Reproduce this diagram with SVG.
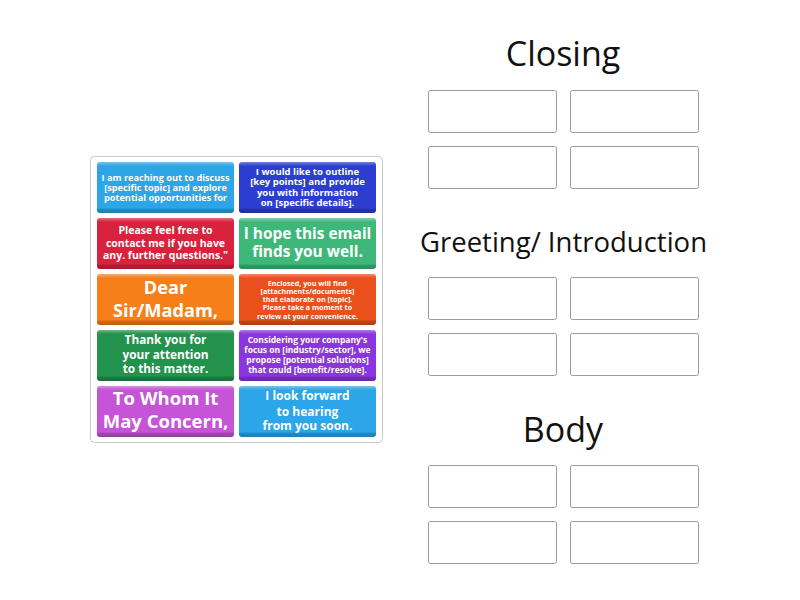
<svg xmlns="http://www.w3.org/2000/svg" width="800" height="600" viewBox="0 0 800 600">
<defs>
<linearGradient id="bevel" x1="0" y1="0" x2="0" y2="1">
<stop offset="0" stop-color="#fff" stop-opacity="0.35"/>
<stop offset="0.05" stop-color="#fff" stop-opacity="0.12"/>
<stop offset="0.08" stop-color="#fff" stop-opacity="0"/>
<stop offset="0.9" stop-color="#000" stop-opacity="0"/>
<stop offset="0.93" stop-color="#000" stop-opacity="0.18"/>
<stop offset="1" stop-color="#000" stop-opacity="0.25"/>
</linearGradient>
</defs>
<style>
.head{font-family:"Open Sans","Liberation Sans",sans-serif;fill:#111;text-anchor:middle}
.tt{font-family:"Open Sans","Liberation Sans",sans-serif;font-weight:bold;fill:#fff;text-anchor:middle}
.slot{fill:#fff;stroke:#9a9a9a;stroke-width:1}
.bev{fill:url(#bevel)}
</style>
<rect width="800" height="600" fill="#fff"/>
<g id="panel"><rect x="90.5" y="156.5" width="292" height="286" rx="4" fill="#fff" stroke="#c9c9c9"/></g>

<g id="tile1"><rect x="97" y="162" width="137" height="51" rx="3" fill="#2ca6e8"/><rect class="bev" x="97" y="162" width="137" height="51" rx="3"/>
<text class="tt" font-size="9.2"><tspan x="165.5" y="181">I am reaching out to discuss</tspan><tspan x="165.5" y="191">[specific topic] and explore</tspan><tspan x="165.5" y="201">potential opportunities for</tspan></text></g>

<g id="tile2"><rect x="239" y="162" width="137" height="51" rx="3" fill="#2b3ed0"/><rect class="bev" x="239" y="162" width="137" height="51" rx="3"/>
<text class="tt" font-size="9.5"><tspan x="307.5" y="174.5">I would like to outline</tspan><tspan x="307.5" y="185">[key points] and provide</tspan><tspan x="307.5" y="195.5">you with information</tspan><tspan x="307.5" y="206">on [specific details].</tspan></text></g>

<g id="tile3"><rect x="97" y="218" width="137" height="51" rx="3" fill="#d9223d"/><rect class="bev" x="97" y="218" width="137" height="51" rx="3"/>
<text class="tt" font-size="10.5"><tspan x="165.5" y="234">Please feel free to</tspan><tspan x="165.5" y="246.5">contact me if you have</tspan><tspan x="165.5" y="259">any. further questions."</tspan></text></g>

<g id="tile4"><rect x="239" y="218" width="137" height="51" rx="3" fill="#3db879"/><rect class="bev" x="239" y="218" width="137" height="51" rx="3"/>
<text class="tt" font-size="15.4"><tspan x="307.5" y="238.5">I hope this email</tspan><tspan x="307.5" y="257">finds you well.</tspan></text></g>

<g id="tile5"><rect x="97" y="274" width="137" height="51" rx="3" fill="#f67f1a"/><rect class="bev" x="97" y="274" width="137" height="51" rx="3"/>
<text class="tt" font-size="18.2"><tspan x="165.5" y="294">Dear</tspan><tspan x="165.5" y="316.5">Sir/Madam,</tspan></text></g>

<g id="tile6"><rect x="239" y="274" width="137" height="51" rx="3" fill="#e9501c"/><rect class="bev" x="239" y="274" width="137" height="51" rx="3"/>
<text class="tt" font-size="7.2"><tspan x="307.5" y="285.5">Enclosed, you will find</tspan><tspan x="307.5" y="294">[attachments/documents]</tspan><tspan x="307.5" y="302.3">that elaborate on [topic].</tspan><tspan x="307.5" y="310.3">Please take a moment to</tspan><tspan x="307.5" y="318.5">review at your convenience.</tspan></text></g>

<g id="tile7"><rect x="97" y="330" width="137" height="51" rx="3" fill="#22924c"/><rect class="bev" x="97" y="330" width="137" height="51" rx="3"/>
<text class="tt" font-size="11.8"><tspan x="165.5" y="344">Thank you for</tspan><tspan x="165.5" y="358.5">your attention</tspan><tspan x="165.5" y="373">to this matter.</tspan></text></g>

<g id="tile8"><rect x="239" y="330" width="137" height="51" rx="3" fill="#8a36e0"/><rect class="bev" x="239" y="330" width="137" height="51" rx="3"/>
<text class="tt" font-size="8.5"><tspan x="307.5" y="343">Considering your company's</tspan><tspan x="307.5" y="353.3">focus on [industry/sector], we</tspan><tspan x="307.5" y="363.3">propose [potential solutions]</tspan><tspan x="307.5" y="373">that could [benefit/resolve].</tspan></text></g>

<g id="tile9"><rect x="97" y="386" width="137" height="51" rx="3" fill="#c654d6"/><rect class="bev" x="97" y="386" width="137" height="51" rx="3"/>
<text class="tt" font-size="18.5"><tspan x="165.5" y="405">To Whom It</tspan><tspan x="165.5" y="428">May Concern,</tspan></text></g>

<g id="tile10"><rect x="239" y="386" width="137" height="51" rx="3" fill="#2ca6e8"/><rect class="bev" x="239" y="386" width="137" height="51" rx="3"/>
<text class="tt" font-size="12"><tspan x="307.5" y="400">I look forward</tspan><tspan x="307.5" y="415.5">to hearing</tspan><tspan x="307.5" y="430">from you soon.</tspan></text></g>

<g id="closing">
<text class="head" x="563" y="66" font-size="34">Closing</text>
<rect class="slot" x="428.5" y="90.5" width="128" height="42" rx="2"/>
<rect class="slot" x="570.5" y="90.5" width="128" height="42" rx="2"/>
<rect class="slot" x="428.5" y="146.5" width="128" height="42" rx="2"/>
<rect class="slot" x="570.5" y="146.5" width="128" height="42" rx="2"/>
</g>
<g id="greeting">
<text class="head" x="563.5" y="251.5" font-size="27.5">Greeting/ Introduction</text>
<rect class="slot" x="428.5" y="277.5" width="128" height="42" rx="2"/>
<rect class="slot" x="570.5" y="277.5" width="128" height="42" rx="2"/>
<rect class="slot" x="428.5" y="333.5" width="128" height="42" rx="2"/>
<rect class="slot" x="570.5" y="333.5" width="128" height="42" rx="2"/>
</g>
<g id="body">
<text class="head" x="563" y="441.5" font-size="34">Body</text>
<rect class="slot" x="428.5" y="465.5" width="128" height="42" rx="2"/>
<rect class="slot" x="570.5" y="465.5" width="128" height="42" rx="2"/>
<rect class="slot" x="428.5" y="521.5" width="128" height="42" rx="2"/>
<rect class="slot" x="570.5" y="521.5" width="128" height="42" rx="2"/>
</g>
<g id="connectors"/>
</svg>
